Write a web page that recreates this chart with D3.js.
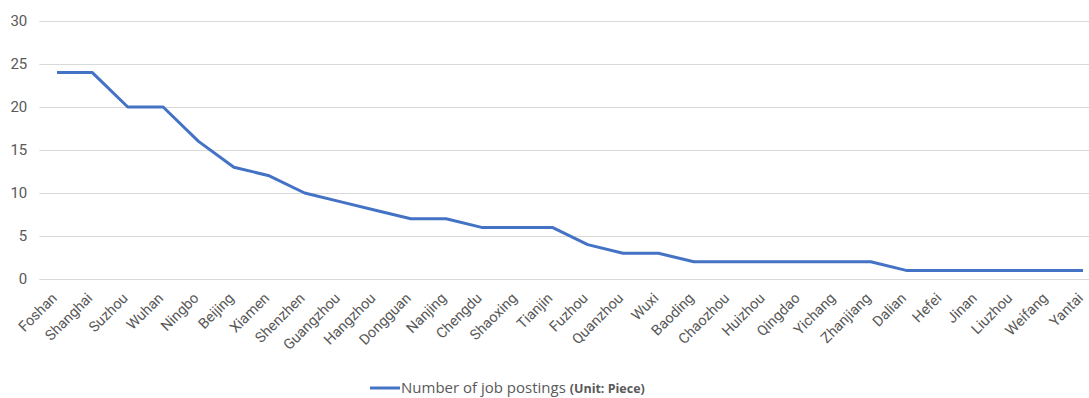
<!DOCTYPE html>
<html>
<head>
<meta charset="utf-8">
<script src="https://cdn.jsdelivr.net/npm/d3@7"></script>
<style>
  html, body { margin: 0; padding: 0; background: #fff; overflow: hidden; }
  svg { display: block; font-family: "Open Sans", "Noto Sans", sans-serif; }
</style>
</head>
<body>
<svg id="chart" width="1089" height="398"></svg>
<script>
const cities = ["Foshan", "Shanghai", "Suzhou", "Wuhan", "Ningbo", "Beijing", "Xiamen", "Shenzhen",
  "Guangzhou", "Hangzhou", "Dongguan", "Nanjing", "Chengdu", "Shaoxing", "Tianjin", "Fuzhou",
  "Quanzhou", "Wuxi", "Baoding", "Chaozhou", "Huizhou", "Qingdao", "Yichang", "Zhanjiang",
  "Dalian", "Hefei", "Jinan", "Liuzhou", "Weifang", "Yantai"];
const postings = [24, 24, 20, 20, 16, 13, 12, 10, 9, 8, 7, 7, 6, 6, 6, 4, 3, 3, 2, 2, 2, 2, 2, 2,
  1, 1, 1, 1, 1, 1];
const yTicks = [0, 5, 10, 15, 20, 25, 30];
const seriesName = "Number of job postings";
const seriesUnit = "(Unit: Piece)";

const svg = d3.select("#chart");
const plot = { left: 39.3, right: 1100.7, top: 21, bottom: 279 };

const x = d3.scaleBand().domain(cities).range([plot.left, plot.right]);
const y = d3.scaleLinear().domain([0, 30]).range([plot.bottom, plot.top]);

// horizontal gridlines
svg.append("g")
  .selectAll("line")
  .data(yTicks)
  .join("line")
  .attr("x1", plot.left)
  .attr("x2", plot.right)
  .attr("y1", d => Math.round(y(d)) + 0.5)
  .attr("y2", d => Math.round(y(d)) + 0.5)
  .attr("stroke", "#d9d9d9")
  .attr("stroke-width", 1);

// y axis labels
const yAxis = svg.append("g")
  .attr("transform", `translate(${plot.left},0)`)
  .call(d3.axisLeft(y).tickValues(yTicks).tickSize(0).tickPadding(12));
yAxis.select(".domain").remove();
yAxis.selectAll("text")
  .attr("font-size", 15)
  .attr("fill", "#595959")
  .attr("font-family", "Roboto, 'Open Sans', sans-serif");

// x axis labels, rotated
const xAxis = svg.append("g")
  .attr("transform", `translate(0,${plot.bottom})`)
  .call(d3.axisBottom(x).tickSize(0).tickPadding(0));
xAxis.select(".domain").remove();
xAxis.selectAll("text")
  .attr("font-size", 14.5)
  .attr("fill", "#595959")
  .attr("font-family", "Roboto, 'Open Sans', sans-serif")
  .attr("text-anchor", "end")
  .attr("dy", "0")
  .attr("transform", "translate(1,20) rotate(-45)");

// series line
const line = d3.line()
  .x((d, i) => x(cities[i]) + x.bandwidth() / 2)
  .y(d => y(d));

svg.append("path")
  .datum(postings)
  .attr("d", line)
  .attr("fill", "none")
  .attr("stroke", "#4472c4")
  .attr("stroke-width", 3)
  .attr("stroke-linejoin", "round");

// legend
const legend = svg.append("g").attr("transform", "translate(370,388)");
legend.append("line")
  .attr("x1", 0).attr("x2", 30)
  .attr("y1", 0).attr("y2", 0)
  .attr("stroke", "#4472c4")
  .attr("stroke-width", 3);
const lt = legend.append("text")
  .attr("x", 31)
  .attr("y", 5)
  .attr("fill", "#595959")
  .attr("font-family", "'Open Sans', sans-serif");
lt.append("tspan").attr("font-size", 15).text(seriesName + " ");
lt.append("tspan").attr("font-size", 12.5).attr("font-weight", "bold").text(seriesUnit);
</script>
</body>
</html>
